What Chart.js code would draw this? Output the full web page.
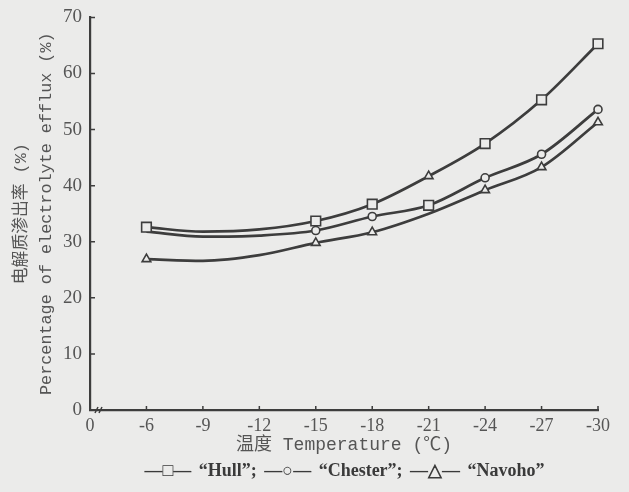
<!DOCTYPE html>
<html>
<head>
<meta charset="utf-8">
<script src="https://cdn.jsdelivr.net/npm/chart.js@4.4.1/dist/chart.umd.min.js"></script>
<style>
  html, body { margin: 0; padding: 0; background: #ebebea; }
  #box { position: relative; width: 629px; height: 492px; }
  #legenda {
    position: absolute; left: 0; top: 460px; width: 100%;
    font: bold 18px "Liberation Serif", serif; color: #3a3a3a;
    line-height: 20px; white-space: nowrap; text-align: center; word-spacing: 3px;
  }
</style>
</head>
<body>
<div id="box">
  <canvas id="grafico"></canvas>
  <div id="legenda"></div>
</div>
<script>
// temperaturas (eixo x, com quebra entre 0 e -6)
const temperaturas = ["0", "-6", "-9", "-12", "-15", "-18", "-21", "-24", "-27", "-30"];
const ticksY = [0, 10, 20, 30, 40, 50, 60, 70];

// % de extravasamento de eletrólitos
const hull    = [null, 32.6, 31.8, 32.2, 33.7, 36.7, 41.7, 47.5, 55.3, 65.3];
const chester = [null, 31.8, 30.9, 31.1, 32.0, 34.5, 36.5, 41.4, 45.6, 53.6];
const navoho  = [null, 26.9, 26.6, 27.6, 29.8, 31.7, 35.0, 39.2, 43.3, 51.3];

const nomes = ["Hull", "Chester", "Navoho"];
const simbolos = ["□", "○", "△"];

/* marcadores como no original (em -9 e -12 só a curva) */
const marcasHull    = [null, "rect", null, null, "rect", "rect", "triangle", "rect", "rect", "rect"];
const marcasChester = [null, null, null, null, "circle", "circle", "rect", "circle", "circle", "circle"];
const marcasNavoho  = [null, "triangle", null, null, "triangle", "triangle", null, "triangle", "triangle", "triangle"];

const corLinha = "#3d3d3d";
const corTexto = "#555";
const fundo = "#ebebea";

function raio(estilo) {
    if (!estilo) return 0;
    if (estilo === "rect") return 6.8;
    if (estilo === "triangle") return 5;
    return 4;
}

function serie(label, dados, marcas) {
    return {
        label: label,
        data: dados,
        borderColor: corLinha,
        borderWidth: 2.7,
        cubicInterpolationMode: "monotone",
        spanGaps: true,
        pointStyle: marcas.map(m => m || "circle"),
        pointRadius: marcas.map(raio),
        pointHoverRadius: marcas.map(raio),
        pointBorderColor: corLinha,
        pointBorderWidth: 1.6,
        pointBackgroundColor: fundo
    };
}

/* ticks para dentro + quebra do eixo */
const ticksDentro = {
    id: "ticksDentro",
    afterDraw(chart) {
        const ctx = chart.ctx;
        const x = chart.scales.x, y = chart.scales.y;
        ctx.save();
        ctx.strokeStyle = corLinha;
        ctx.lineWidth = 1.5;
        ctx.beginPath();
        for (let i = 1; i < temperaturas.length; i++) {
            const px = x.getPixelForValue(i);
            ctx.moveTo(px, y.bottom);
            ctx.lineTo(px, y.bottom - 4);
        }
        ticksY.forEach(v => {
            if (v === 0) return;
            const py = y.getPixelForValue(v);
            ctx.moveTo(x.left, py);
            ctx.lineTo(x.left + 5, py);
        });
        // quebra "//"
        const bx = x.getPixelForValue(0) + 7;
        ctx.moveTo(bx - 2, y.bottom + 3);
        ctx.lineTo(bx + 1, y.bottom - 3);
        ctx.moveTo(bx + 2, y.bottom + 3);
        ctx.lineTo(bx + 5, y.bottom - 3);
        ctx.stroke();
        ctx.restore();
    },
    afterLayout(chart) {
        // legenda centrada na área do gráfico, como no original
        const a = chart.chartArea;
        const el = document.getElementById("legenda");
        el.style.left = (a.left + a.right) / 2 - 314 + "px";
    }
};

document.getElementById("legenda").textContent =
    nomes.map((n, i) => "—" + simbolos[i] + "— “" + n + "”").join("; ");

new Chart(document.getElementById("grafico"), {
    type: "line",
    data: {
        labels: temperaturas,
        datasets: [
            serie(nomes[0], hull, marcasHull),
            serie(nomes[1], chester, marcasChester),
            serie(nomes[2], navoho, marcasNavoho)
        ]
    },
    options: {
        responsive: true,
        maintainAspectRatio: false,
        animation: false,
        layout: { padding: { top: 8, right: 31, left: 0, bottom: 32 } },
        plugins: {
            legend: { display: false },
            tooltip: { enabled: false }
        },
        scales: {
            x: {
                type: "category",
                offset: false,
                grid: { display: false, tickLength: 2 },
                border: { display: true, color: corLinha, width: 2.2 },
                afterFit: scale => { scale.height = 50; },
                ticks: {
                    color: corTexto,
                    font: { family: "'Liberation Serif', serif", size: 18 },
                    padding: 3,
                    maxRotation: 0,
                    autoSkip: false
                },
                title: {
                    display: true,
                    text: "温度 Temperature (℃)",
                    color: corTexto,
                    font: { family: "'Liberation Mono', 'Noto Sans CJK SC', monospace", size: 18 },
                    padding: { top: 0, bottom: 4 }
                }
            },
            y: {
                min: 0,
                max: 70,
                grid: { display: false, tickLength: 2 },
                border: { display: true, color: corLinha, width: 2.2 },
                afterFit: scale => { scale.width = 90; },
                afterBuildTicks: scale => { scale.ticks = ticksY.map(v => ({ value: v })); },
                ticks: {
                    color: corTexto,
                    font: { family: "'Liberation Serif', serif", size: 19 },
                    padding: 6
                },
                title: {
                    display: true,
                    text: ["电解质渗出率 (%)", "Percentage of electrolyte efflux (%)"],
                    color: corTexto,
                    font: { family: "'Liberation Mono', 'Noto Sans CJK SC', monospace", size: 16.8, lineHeight: 1.5 },
                    padding: 9
                }
            }
        }
    },
    plugins: [ticksDentro]
});
</script>
</body>
</html>
